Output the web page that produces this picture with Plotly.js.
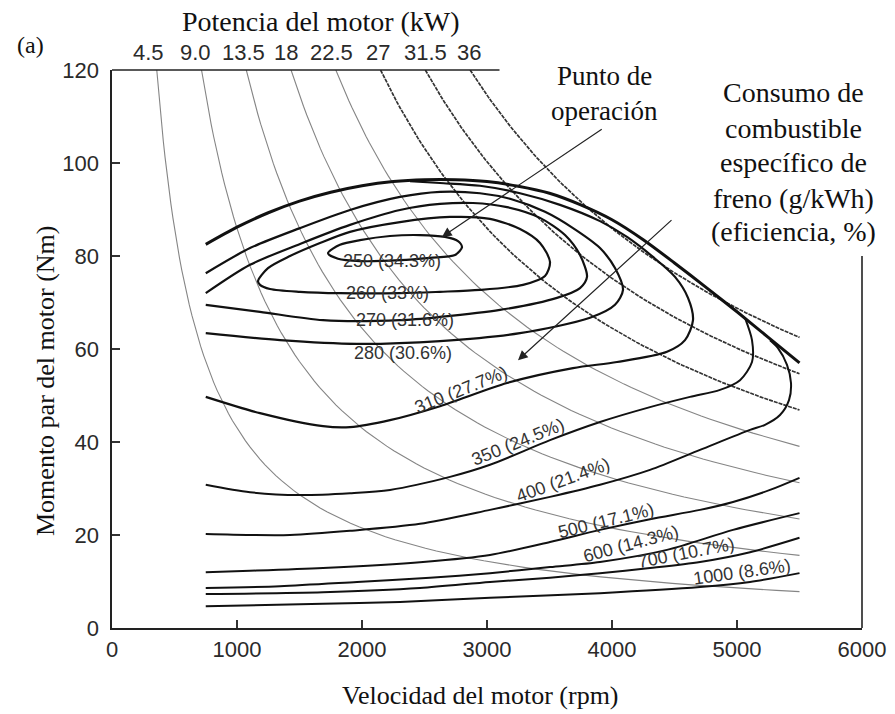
<!DOCTYPE html>
<html>
<head>
<meta charset="utf-8">
<script src="https://cdn.plot.ly/plotly-3.0.1.min.js"></script>
<style>html,body{margin:0;padding:0;background:#fff;}#chart{width:895px;height:714px;}</style>
</head>
<body>
<div id="chart"></div>
<script>
// ---------- data ----------
const xTicks = [0, 1000, 2000, 3000, 4000, 5000, 6000];
const yTicks = [0, 20, 40, 60, 80, 100, 120];

// Iso-power lines (kW), labelled on the top edge
const powerKW = [4.5, 9.0, 13.5, 18, 22.5, 27, 31.5, 36];
const powerLabels = ['4.5', '9.0', '13.5', '18', '22.5', '27', '31.5', '36'];
const powerLabelRpm = [288, 664, 1048, 1392, 1752, 2128, 2504, 2856];
const powerEndRpm = 5500;

// Maximum (full-load) torque curve
const wotRpm = [750, 1000, 1250, 1500, 1750, 2000, 2250, 2500, 2750, 3000, 3250, 3500, 3750, 4000, 4250, 4500, 4750, 5000, 5250, 5500];
const wotT   = [82.5, 86.2, 89.3, 91.8, 93.7, 95.1, 96.0, 96.4, 96.4, 96.0, 95.0, 93.5, 91.0, 87.8, 83.5, 78.5, 73.3, 68.0, 62.5, 57.0];

// BSFC contours (g/kWh)
const c250Rpm = [1728, 1824, 1984, 2224, 2464, 2664, 2768, 2800, 2744, 2544, 2304, 1984, 1808, 1728];
const c250T   = [80.6, 82.4, 83.4, 84.3, 84.5, 84.1, 83.2, 81.9, 80.2, 79.6, 79.1, 78.9, 79.4, 80.6];

const c260Rpm = [1168, 1248, 1424, 1664, 1904, 2304, 2704, 3024, 3264, 3424, 3504, 3464, 3288, 2944, 2624, 2304, 1824, 1504, 1264, 1184, 1168];
const c260T   = [74.6, 77.4, 80.0, 82.8, 85.2, 87.3, 88.4, 88.0, 85.8, 82.8, 78.7, 75.7, 73.8, 72.7, 72.3, 72.0, 72.0, 72.3, 72.9, 73.8, 74.6];

const c270Rpm = [750, 1104, 1504, 1904, 2304, 2624, 2888, 3160, 3424, 3624, 3744, 3800, 3744, 3560, 3104, 2624, 2304, 1688, 1184, 750];
const c270T   = [72.0, 78.1, 82.6, 86.7, 89.9, 91.2, 91.4, 90.5, 88.2, 84.5, 80.2, 75.5, 73.1, 71.0, 68.4, 66.9, 66.2, 66.2, 68.0, 69.5];

const c280Rpm = [750, 1104, 1504, 1904, 2304, 2624, 2944, 3184, 3464, 3688, 3904, 4024, 4088, 4024, 3824, 3264, 2624, 1960, 1344, 750];
const c280T   = [76.3, 81.7, 86.0, 89.9, 92.7, 93.8, 93.5, 92.3, 89.5, 86.0, 81.7, 77.4, 72.7, 69.5, 66.7, 63.4, 61.7, 61.1, 61.9, 63.4];

const c310Rpm = [750, 1184, 1688, 1904, 2224, 2624, 3160, 3688, 4040, 4440, 4584, 4648, 4608, 4504, 4328, 4120, 3904, 3584, 3264, 2944, 2624, 2384];
const c310T   = [49.7, 46.2, 43.4, 43.2, 44.7, 47.7, 52.7, 55.9, 57.2, 59.4, 61.9, 66.2, 71.0, 75.5, 79.8, 84.1, 87.5, 91.0, 93.5, 95.1, 95.7, 96.1];

const c350Rpm = [750, 1104, 1504, 1904, 2224, 2704, 3024, 3504, 3904, 4304, 4624, 4864, 5024, 5120, 5120, 5064];
const c350T   = [30.8, 29.2, 28.6, 29.0, 29.7, 32.5, 35.1, 40.4, 44.3, 47.5, 49.7, 51.2, 53.3, 57.2, 61.9, 66.7];

const c400Rpm = [750, 1104, 1424, 1904, 2464, 3024, 3504, 3904, 4304, 4704, 5104, 5224, 5344, 5416, 5432, 5400, 5328, 5264];
const c400T   = [20.2, 20.0, 20.0, 20.9, 22.4, 25.4, 28.2, 30.8, 34.0, 38.3, 42.6, 43.7, 45.8, 49.0, 52.7, 56.6, 60.2, 61.9];

const c500Rpm = [750, 1104, 1688, 2488, 3024, 3504, 3904, 4304, 4704, 4968, 5264, 5500];
const c500T   = [12.0, 12.3, 12.9, 14.2, 15.7, 18.5, 21.1, 23.4, 25.4, 27.1, 29.7, 32.3];

const c600Rpm = [750, 1344, 1960, 2544, 3024, 3504, 3904, 4440, 4968, 5500];
const c600T   = [8.6, 9.0, 9.9, 10.8, 11.8, 13.1, 14.2, 16.8, 21.1, 24.7];

const c700Rpm = [750, 1688, 2464, 3024, 3504, 3904, 4304, 4704, 5104, 5500];
const c700T   = [7.3, 7.7, 8.6, 9.9, 10.8, 11.8, 12.9, 14.2, 16.3, 19.4];

const c1000Rpm = [750, 1688, 2304, 3024, 3904, 4704, 5104, 5500];
const c1000T   = [4.7, 5.2, 5.6, 6.5, 7.5, 8.8, 9.9, 11.8];

// contour labels: text, position (rpm, Nm), angle
const cLabelText  = ['250 (34.3%)', '260 (33%)', '270 (31.6%)', '280 (30.6%)', '310 (27.7%)', '350 (24.5%)', '400 (21.4%)', '500 (17.1%)', '600 (14.3%)', '700 (10.7%)', '1000 (8.6%)'];
const cLabelRpm   = [2240, 2200, 2340, 2330, 2790, 3250, 3610, 3950, 4150, 4590, 5040];
const cLabelT     = [79.0, 72.0, 66.2, 59.2, 51.2, 40.0, 31.8, 23.0, 18.0, 16.2, 12.0];
const cLabelAngle = [0, 0, 0, 0, -22, -22, -20, -14, -15, -11, -8];

// arrows: head (rpm, Nm) and tail (rpm, Nm)
const arrowHeadRpm = [2640, 3248];
const arrowHeadT   = [84.1, 57.6];
const arrowTailRpm = [3930, 4488];
const arrowTailT   = [107.5, 88.0];

// ---------- build ----------
const contourColor = '#111';
const traces = [];

// iso-power hyperbolas: T[Nm] = P[kW]*60000/(2*pi*n[rpm])
powerKW.forEach((p) => {
  const nTop = p * 60000 / (2 * Math.PI * 120);
  const xs = [], ys = [];
  const steps = 80;
  for (let k = 0; k <= steps; k++) {
    const n = nTop * Math.pow(powerEndRpm / nTop, k / steps);
    xs.push(n);
    ys.push(p * 60000 / (2 * Math.PI * n));
  }
  const heavy = p >= 27;
  traces.push({
    x: xs, y: ys, mode: 'lines', hoverinfo: 'skip',
    line: heavy ? {color: '#333', width: 1.7, dash: '4px,1px'} : {color: '#858585', width: 1.1}
  });
});

function addContour(xs, ys, w) {
  traces.push({x: xs, y: ys, mode: 'lines', hoverinfo: 'skip',
    line: {color: contourColor, width: w, shape: 'spline', smoothing: 0.8}});
}
addContour(c1000Rpm, c1000T, 2);
addContour(c700Rpm, c700T, 2);
addContour(c600Rpm, c600T, 2);
addContour(c500Rpm, c500T, 2);
addContour(c400Rpm, c400T, 2);
addContour(c350Rpm, c350T, 2);
addContour(c310Rpm, c310T, 2.2);
addContour(c280Rpm, c280T, 2.2);
addContour(c270Rpm, c270T, 2.2);
addContour(c260Rpm, c260T, 2.2);
addContour(c250Rpm, c250T, 2.2);
addContour(wotRpm, wotT, 3);

const serif = 'Liberation Serif, Times New Roman, serif';
const sans = 'Liberation Sans, Arial, Helvetica, sans-serif';

// paper helpers (plot area: x 112..862 px, y 70..628 px)
const L = 112, R = 862, T0 = 70, B = 628;
const px = v => (v - L) / (R - L);
const py = v => (B - v) / (B - T0);

const annotations = [];
powerLabels.forEach((t, i) => {
  annotations.push({
    x: powerLabelRpm[i], xref: 'x', y: py(52), yref: 'paper',
    text: t, showarrow: false, xanchor: 'center', yanchor: 'middle',
    font: {family: sans, size: 22, color: '#2a2a2a'}
  });
});
annotations.push({x: px(321), y: py(21), xref: 'paper', yref: 'paper', text: 'Potencia del motor (kW)', showarrow: false,
  xanchor: 'center', yanchor: 'middle', font: {family: serif, size: 28, color: '#111'}});
annotations.push({x: px(30), y: py(45), xref: 'paper', yref: 'paper', text: '(a)', showarrow: false,
  xanchor: 'center', yanchor: 'middle', font: {family: serif, size: 24, color: '#111'}});
annotations.push({x: px(480), y: py(695), xref: 'paper', yref: 'paper', text: 'Velocidad del motor (rpm)', showarrow: false,
  xanchor: 'center', yanchor: 'middle', font: {family: serif, size: 26, color: '#111'}});
annotations.push({x: px(45), y: py(381), xref: 'paper', yref: 'paper', text: 'Momento par del motor (Nm)', showarrow: false,
  textangle: -90, xanchor: 'center', yanchor: 'middle', font: {family: serif, size: 26, color: '#111'}});

const puntoLines = ['Punto de', 'operación'];
const puntoY = [76, 111];
puntoLines.forEach((t, i) => annotations.push({x: px(604), y: py(puntoY[i]), xref: 'paper', yref: 'paper', text: t,
  showarrow: false, xanchor: 'center', yanchor: 'middle', font: {family: serif, size: 27, color: '#111'}}));

const bsfcLines = ['Consumo de', 'combustible', 'específico de', 'freno (g/kWh)', '(eficiencia, %)'];
const bsfcY = [92, 128, 162, 198, 231];
bsfcLines.forEach((t, i) => annotations.push({x: px(793), y: py(bsfcY[i]), xref: 'paper', yref: 'paper', text: t,
  showarrow: false, xanchor: 'center', yanchor: 'middle', font: {family: serif, size: 28, color: '#111'}}));

cLabelText.forEach((t, i) => annotations.push({x: cLabelRpm[i], y: cLabelT[i], xref: 'x', yref: 'y', text: t,
  showarrow: false, textangle: cLabelAngle[i], xanchor: 'center', yanchor: 'middle',
  font: {family: sans, size: 18, color: '#333'}}));

arrowHeadRpm.forEach((x, i) => annotations.push({x: x, y: arrowHeadT[i], xref: 'x', yref: 'y',
  ax: arrowTailRpm[i], ay: arrowTailT[i], axref: 'x', ayref: 'y', text: '', showarrow: true,
  arrowhead: 2, arrowsize: 1.6, arrowwidth: 1.2, arrowcolor: '#222'}));

const shapes = [
  {type: 'line', xref: 'x', yref: 'paper', x0: 0, x1: 3100, y0: 1, y1: 1, line: {color: '#222', width: 1.6}},
  {type: 'line', xref: 'paper', yref: 'y', x0: 1, x1: 1, y0: 0, y1: 80, line: {color: '#222', width: 1.6}}
];

const axisCommon = {
  showgrid: false, zeroline: false, showline: true, linecolor: '#222', linewidth: 1.6,
  ticks: 'inside', ticklen: 8, tickwidth: 1.4, tickcolor: '#333',
  tickfont: {family: sans, size: 22, color: '#2a2a2a'}, fixedrange: true
};

const layout = {
  width: 895, height: 714,
  margin: {l: L, r: 895 - R, t: T0, b: 714 - B, pad: 0},
  paper_bgcolor: '#fff', plot_bgcolor: '#fff',
  showlegend: false,
  xaxis: Object.assign({}, axisCommon, {range: [0, 6000], tickvals: xTicks, ticktext: xTicks.map(String), ticklabelstandoff: 1}),
  yaxis: Object.assign({}, axisCommon, {range: [0, 120], tickvals: yTicks, ticktext: yTicks.map(String), ticklabelstandoff: 7}),
  annotations: annotations,
  shapes: shapes
};

Plotly.newPlot('chart', traces, layout, {staticPlot: true, displayModeBar: false});
</script>
</body>
</html>
